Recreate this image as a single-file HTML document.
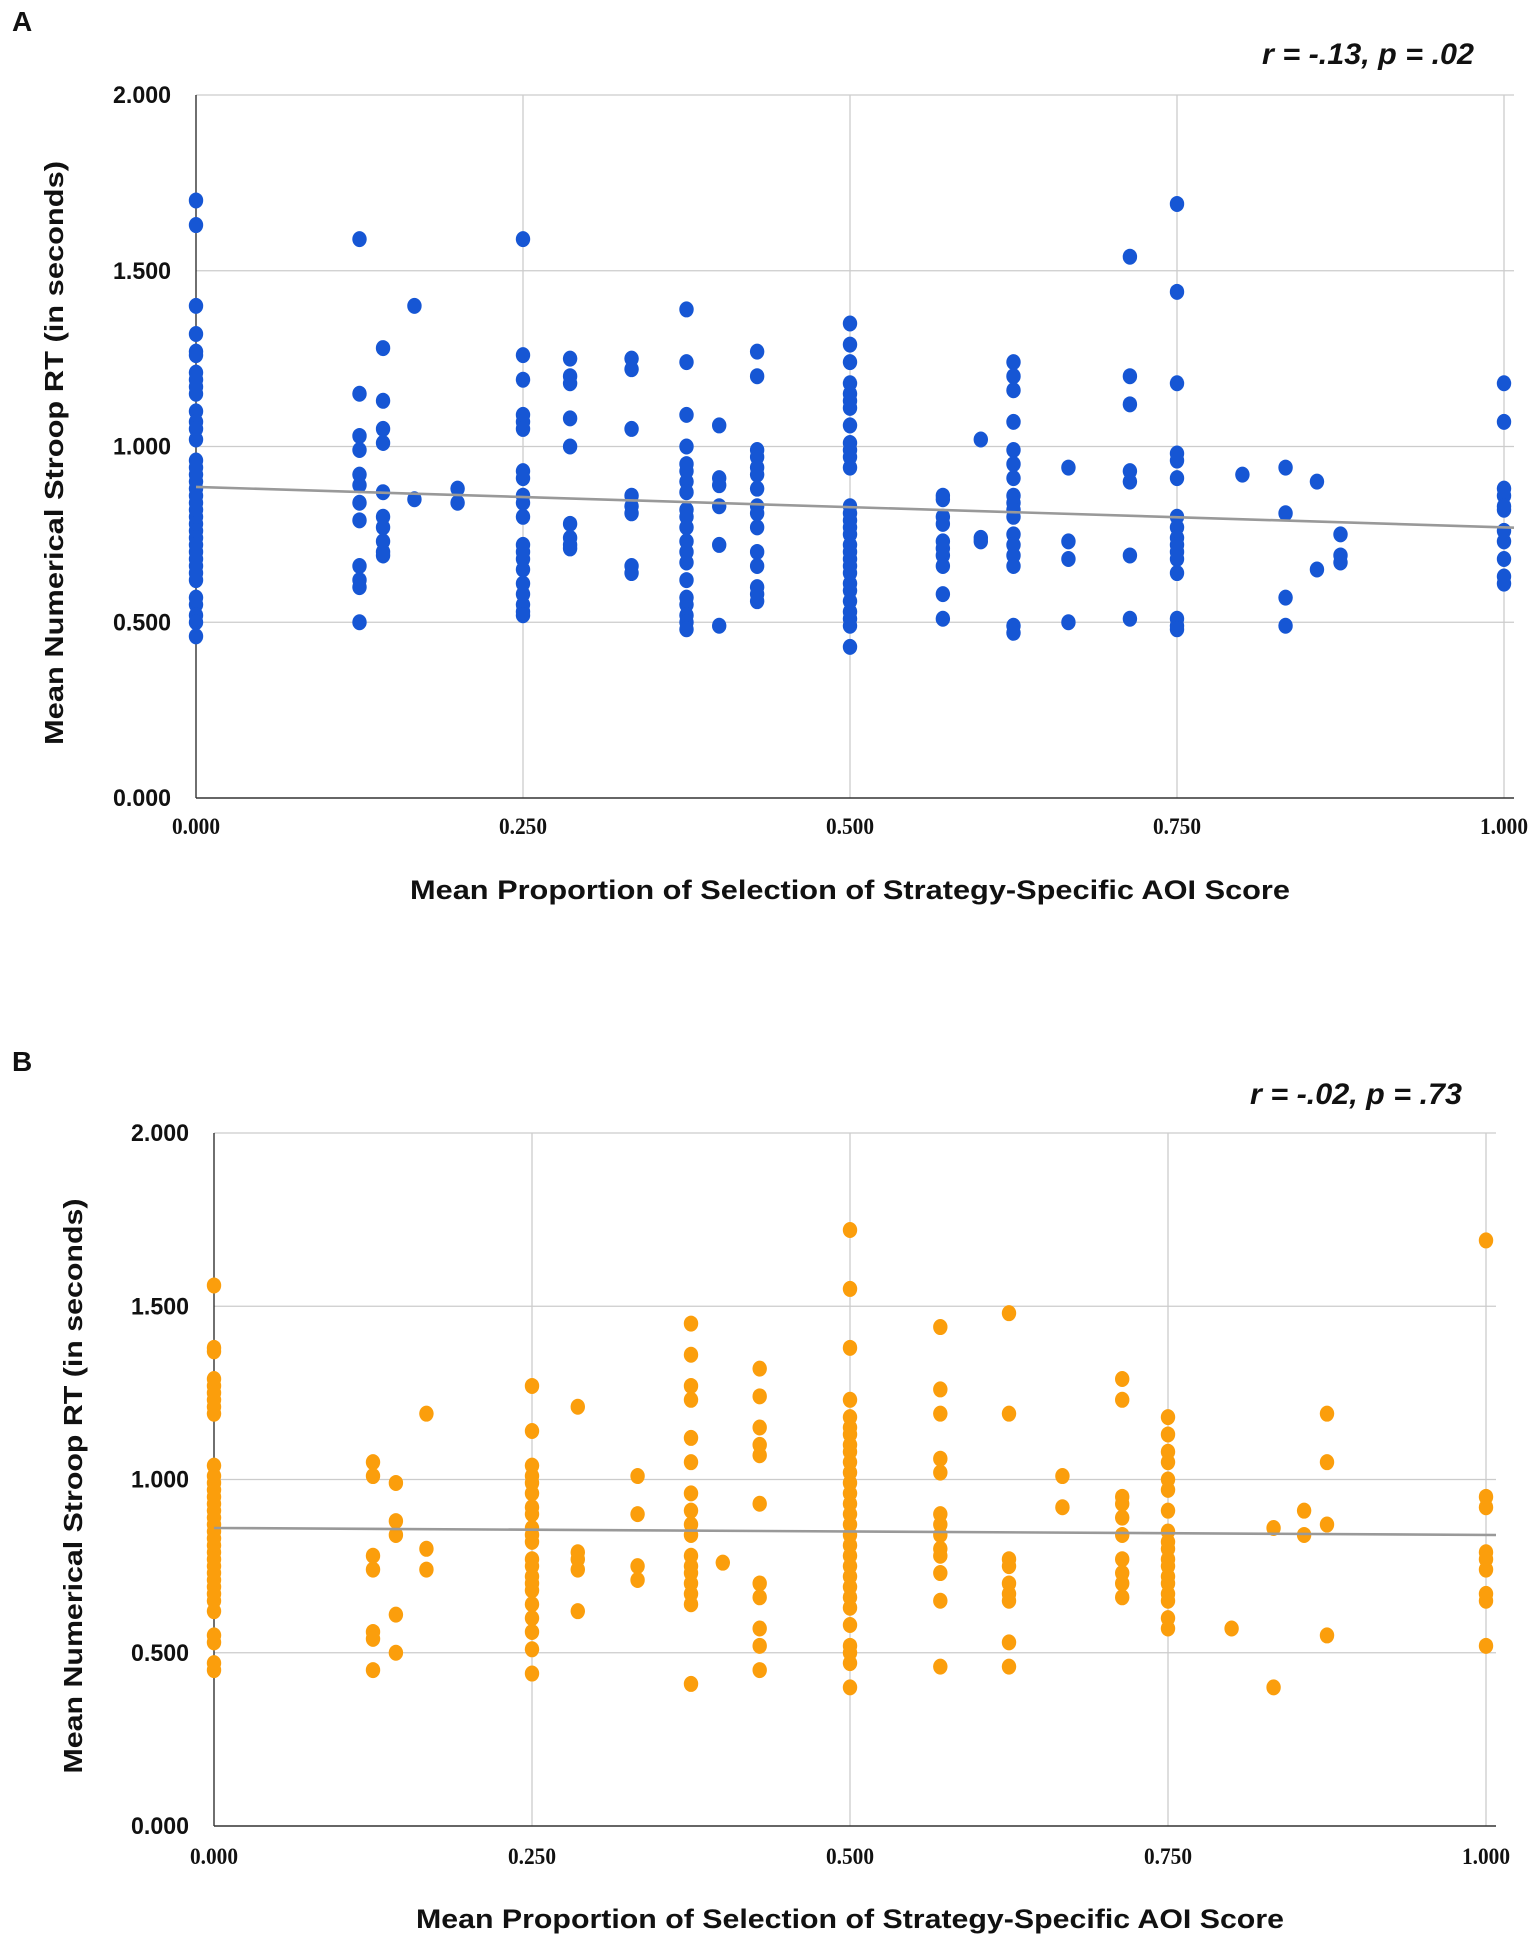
<!DOCTYPE html>
<html><head><meta charset="utf-8"><style>
html,body{margin:0;padding:0;background:#fff;}
svg{display:block;}
text{font-family:"Liberation Sans",sans-serif;font-weight:bold;fill:#111;}
</style></head><body>
<svg id="fig" width="1535" height="1934" viewBox="0 0 1535 1934">
<g id="chartA"></g>
<g id="chartB"></g>
</svg>
<script>
const xTicks=[0,0.25,0.5,0.75,1.0];
const xTickLabels=["0.000","0.250","0.500","0.750","1.000"];
const yTicks=[0,0.5,1.0,1.5,2.0];
const yTickLabels=["0.000","0.500","1.000","1.500","2.000"];

const aGroupsX=[0,0.125,0.143,0.167,0.2,0.25,0.286,0.333,0.375,0.4,0.429,0.5,0.571,0.6,0.625,0.667,0.714,0.75,0.8,0.833,0.857,0.875,1.0];
const aGroupsY=[
[1.70,1.63,1.40,1.32,1.27,1.26,1.21,1.19,1.17,1.15,1.10,1.07,1.05,1.02,0.96,0.94,0.92,0.90,0.88,0.86,0.84,0.82,0.80,0.78,0.76,0.74,0.72,0.70,0.68,0.66,0.64,0.62,0.57,0.55,0.52,0.50,0.46],
[1.59,1.15,1.03,0.99,0.92,0.89,0.84,0.79,0.66,0.62,0.60,0.50],
[1.28,1.13,1.05,1.01,0.87,0.80,0.77,0.73,0.70,0.69],
[1.40,0.85],
[0.88,0.84],
[1.59,1.26,1.19,1.09,1.07,1.05,0.93,0.91,0.86,0.84,0.80,0.72,0.70,0.68,0.65,0.61,0.58,0.55,0.53,0.52],
[1.25,1.20,1.18,1.08,1.00,0.78,0.74,0.72,0.71],
[1.25,1.22,1.05,0.86,0.83,0.81,0.66,0.64],
[1.39,1.24,1.09,1.00,0.95,0.93,0.90,0.87,0.82,0.80,0.77,0.73,0.70,0.67,0.62,0.57,0.55,0.52,0.50,0.48],
[1.06,0.91,0.89,0.83,0.72,0.49],
[1.27,1.20,0.99,0.97,0.94,0.92,0.88,0.83,0.81,0.77,0.70,0.66,0.60,0.58,0.56],
[1.35,1.29,1.24,1.18,1.15,1.13,1.11,1.06,1.01,0.99,0.97,0.94,0.83,0.81,0.79,0.77,0.75,0.72,0.70,0.68,0.66,0.64,0.61,0.59,0.56,0.53,0.51,0.49,0.43],
[0.86,0.85,0.80,0.78,0.73,0.71,0.69,0.66,0.58,0.51],
[1.02,0.74,0.73],
[1.24,1.20,1.16,1.07,0.99,0.95,0.91,0.86,0.84,0.82,0.80,0.75,0.72,0.69,0.66,0.49,0.47],
[0.94,0.73,0.68,0.50],
[1.54,1.20,1.12,0.93,0.90,0.69,0.51],
[1.69,1.44,1.18,0.98,0.96,0.91,0.80,0.77,0.74,0.72,0.70,0.68,0.64,0.51,0.49,0.48],
[0.92],
[0.94,0.81,0.57,0.49],
[0.90,0.65],
[0.75,0.69,0.67],
[1.18,1.07,0.88,0.86,0.83,0.82,0.76,0.73,0.68,0.63,0.61]];
const aTrend=[0.885,0.77];

const bGroupsX=[0,0.125,0.143,0.167,0.25,0.286,0.333,0.375,0.4,0.429,0.5,0.571,0.625,0.667,0.714,0.75,0.8,0.833,0.857,0.875,1.0];
const bGroupsY=[
[1.56,1.38,1.37,1.29,1.27,1.25,1.23,1.21,1.19,1.04,1.01,0.99,0.97,0.95,0.93,0.91,0.89,0.87,0.85,0.83,0.81,0.79,0.77,0.75,0.73,0.71,0.69,0.67,0.65,0.62,0.55,0.53,0.47,0.45],
[1.05,1.01,0.78,0.74,0.56,0.54,0.45],
[0.99,0.88,0.84,0.61,0.50],
[1.19,0.80,0.74],
[1.27,1.14,1.04,1.01,0.99,0.96,0.92,0.90,0.86,0.84,0.82,0.77,0.75,0.72,0.70,0.68,0.64,0.60,0.56,0.51,0.44],
[1.21,0.79,0.77,0.74,0.62],
[1.01,0.90,0.75,0.71],
[1.45,1.36,1.27,1.23,1.12,1.05,0.96,0.91,0.87,0.84,0.78,0.75,0.73,0.70,0.67,0.64,0.41],
[0.76],
[1.32,1.24,1.15,1.10,1.07,0.93,0.70,0.66,0.57,0.52,0.45],
[1.72,1.55,1.38,1.23,1.18,1.15,1.13,1.10,1.08,1.05,1.02,0.99,0.96,0.93,0.90,0.87,0.84,0.81,0.78,0.75,0.72,0.69,0.66,0.63,0.58,0.52,0.50,0.47,0.40],
[1.44,1.26,1.19,1.06,1.02,0.90,0.87,0.84,0.80,0.78,0.73,0.65,0.46],
[1.48,1.19,0.77,0.75,0.70,0.67,0.65,0.53,0.46],
[1.01,0.92],
[1.29,1.23,0.95,0.93,0.89,0.84,0.77,0.73,0.70,0.66],
[1.18,1.13,1.08,1.05,1.00,0.97,0.91,0.85,0.82,0.80,0.77,0.75,0.72,0.70,0.67,0.65,0.60,0.57],
[0.57],
[0.86,0.40],
[0.91,0.84],
[1.19,1.05,0.87,0.55],
[1.69,0.95,0.92,0.79,0.77,0.74,0.67,0.65,0.52]];
const bTrend=[0.86,0.84];

const NS="http://www.w3.org/2000/svg";
function mk(parent,tag,attrs,txt){const e=document.createElementNS(NS,tag);for(const k in attrs)e.setAttribute(k,attrs[k]);if(txt!==undefined)e.textContent=txt;parent.appendChild(e);return e;}

function drawChart(g,cfg,gx,gy,trend){
  const sx=v=>cfg.x0+(cfg.x1-cfg.x0)*v;
  const sy=v=>cfg.y0-(cfg.y0-cfg.y2)*v/2;
  xTicks.forEach((t,i)=>{
    if(i>0){const l=mk(g,'line',{x1:sx(t),x2:sx(t),y1:sy(2),y2:sy(0),stroke:'#cccccc','stroke-width':1.3});
    
    }
    const tx=mk(g,'text',{x:sx(t),y:cfg.xTickY,'text-anchor':'middle','font-size':23,textLength:48,lengthAdjust:'spacingAndGlyphs',style:'font-family:"Liberation Serif",serif'},xTickLabels[i]);
    
    
  });
  yTicks.forEach((t,i)=>{
    if(i>0){const l=mk(g,'line',{x1:sx(0),x2:cfg.x1+10,y1:sy(t),y2:sy(t),stroke:'#cccccc','stroke-width':1.3});
    
    }
    const tx=mk(g,'text',{x:cfg.yTickX,y:sy(t)+8,'text-anchor':'end','font-size':24,textLength:58,lengthAdjust:'spacingAndGlyphs'},yTickLabels[i]);
    
    
  });
  const ax=mk(g,'line',{x1:sx(0),x2:sx(0),y1:sy(2),y2:sy(0),stroke:'#222','stroke-width':1.3});
  
  
  const bx=mk(g,'line',{x1:sx(0),x2:cfg.x1+10,y1:sy(0),y2:sy(0),stroke:'#333','stroke-width':1.6});
  
  
  gx.forEach((xv,i)=>{
    gy[i].forEach(yv=>{
      const c=mk(g,'ellipse',{cx:sx(xv),cy:sy(yv),rx:7.2,ry:8,fill:cfg.color});
      
      
    });
  });
  const tl=mk(g,'line',{x1:sx(0),y1:sy(trend[0]),x2:sx(1)+10,y2:sy(trend[1]+(trend[1]-trend[0])*0.0075),stroke:'#999','stroke-width':2.6});
  
  
  const xt=mk(g,'text',{x:(cfg.x0+cfg.x1)/2,y:cfg.xTitleY,'text-anchor':'middle','font-size':27,textLength:cfg.xTitleLen,lengthAdjust:'spacingAndGlyphs'},'Mean Proportion of Selection of Strategy-Specific AOI Score');
  
  
  const yt=mk(g,'text',{x:0,y:0,'text-anchor':'middle','font-size':26,textLength:cfg.yTitleLen,lengthAdjust:'spacingAndGlyphs',transform:`translate(${cfg.yTitleX},${cfg.yTitleY}) rotate(-90)`},'Mean Numerical Stroop RT (in seconds)');
  
  
  const pl=mk(g,'text',{x:cfg.labelX,y:cfg.labelY,'font-size':28},cfg.label);
  
  
  const an=mk(g,'text',{x:cfg.annX,y:cfg.annY,'text-anchor':'end','font-size':30,'font-style':'italic',textLength:212,lengthAdjust:'spacingAndGlyphs'},cfg.ann);
  
  
}
drawChart(document.getElementById('chartA'),{x0:196,x1:1504,y2:95,y0:798,color:'#1656d4',xTickY:834,yTickX:171,xTitleY:899,xTitleLen:880,yTitleX:63,yTitleY:453,yTitleLen:584,label:'A',labelX:12,labelY:31,ann:'r = -.13, p = .02',annX:1474,annY:64},aGroupsX,aGroupsY,aTrend);
drawChart(document.getElementById('chartB'),{x0:214,x1:1486,y2:1133,y0:1826,color:'#fb9e0c',xTickY:1864,yTickX:189,xTitleY:1928,xTitleLen:868,yTitleX:82,yTitleY:1486,yTitleLen:575,label:'B',labelX:12,labelY:1071,ann:'r = -.02, p = .73',annX:1462,annY:1104},bGroupsX,bGroupsY,bTrend);
</script>
</body></html>
